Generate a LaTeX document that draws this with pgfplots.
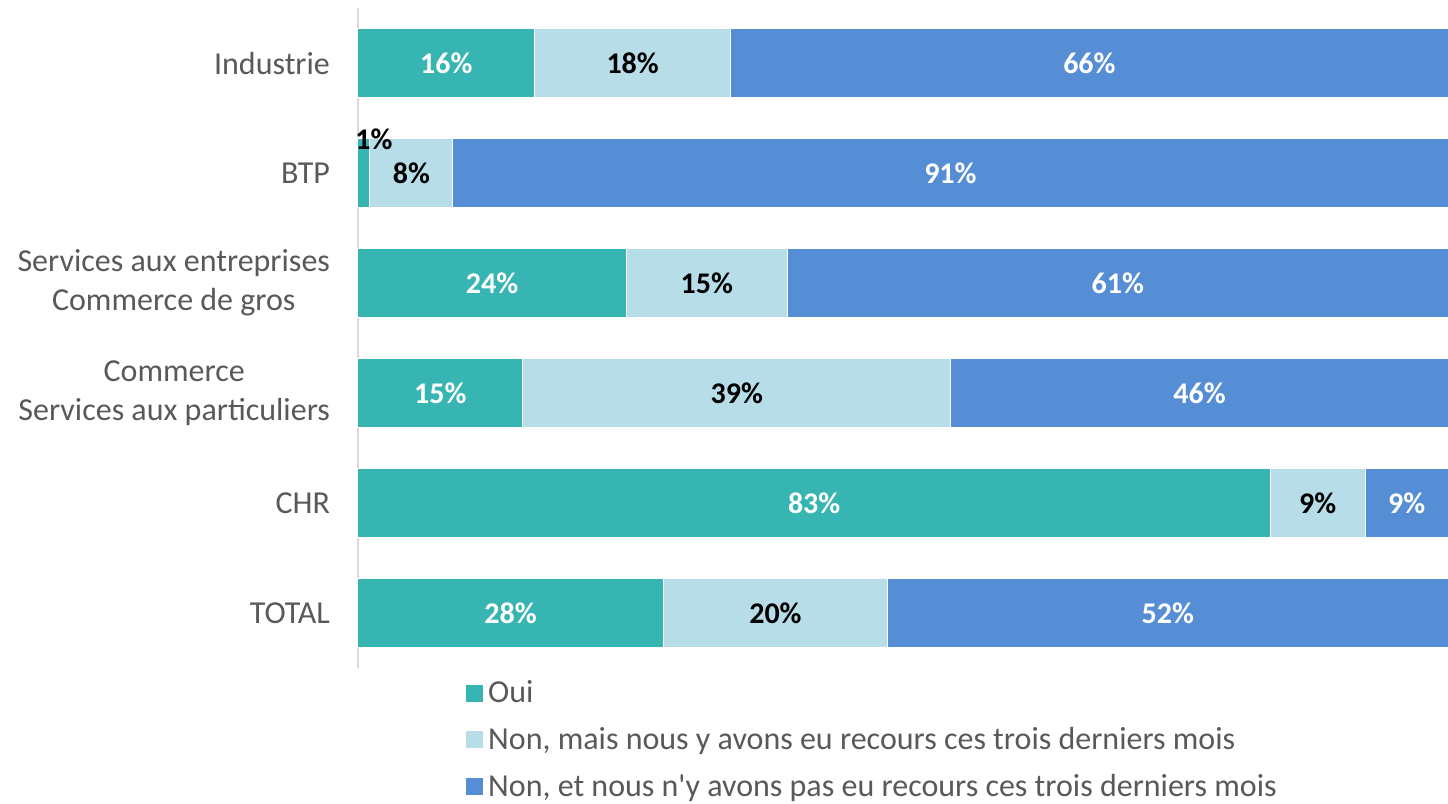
\documentclass[border=0pt]{standalone}
\usepackage{pgfplots}
\pgfplotsset{compat=1.18}
\usepackage{fontspec}
\setmainfont{Carlito}
\definecolor{oui}{HTML}{36B5B3}
\definecolor{nonmais}{HTML}{B7DEE8}
\definecolor{nonet}{HTML}{558ED5}
\definecolor{txt}{HTML}{595959}
\begin{document}
\begin{tikzpicture}
\path[use as bounding box] (0pt,0pt) rectangle (724pt,-402pt);
\begin{axis}[
    at={(179pt,-334pt)}, anchor=south west,
    scale only axis, width=545pt, height=330pt,
    xbar stacked, bar width=34.5pt,
    xmin=0, xmax=100, ymin=-0.5, ymax=5.5, y dir=reverse,
    axis x line=none, axis y line*=left,
    y axis line style={draw=black!15, line width=1pt, -},
    ytick={0,...,5}, major tick length=0pt,
    yticklabels={Industrie, BTP, {Services aux entreprises\\Commerce de gros},
        {Commerce\\Services aux particuliers}, CHR, TOTAL},
    yticklabel style={align=center, text=txt, font=\fontsize{16}{19.5}\selectfont, xshift=-10.5pt},
    clip=false,
    point meta=explicit symbolic,
    nodes near coords,
    every node near coord/.append style={font=\fontsize{15}{17}\selectfont\bfseries},
    legend style={at={(0.098,-0.0124)}, anchor=north west, draw=none, fill=none,
        font=\fontsize{16}{19}\selectfont, text=txt, row sep=6.75pt, inner sep=0pt},
    legend cell align=left,
    legend image code/.code={\fill[#1] (0pt,-4.5pt) rectangle (9pt,4.5pt);},
]
\addplot[fill=oui, draw=white, line width=0.5pt, every node near coord/.append style={text=white}]
    coordinates {(16.2,0)[16\%] (1.1,1)[] (24.6,2)[24\%] (15.1,3)[15\%] (83.7,4)[83\%] (28.0,5)[28\%]};
\addplot[fill=nonmais, draw=white, line width=0.5pt, every node near coord/.append style={text=black}]
    coordinates {(18.0,0)[18\%] (7.6,1)[8\%] (14.8,2)[15\%] (39.3,3)[39\%] (8.7,4)[9\%] (20.6,5)[20\%]};
\addplot[fill=nonet, draw=white, line width=0.5pt, every node near coord/.append style={text=white}]
    coordinates {(65.8,0)[66\%] (91.3,1)[91\%] (60.6,2)[61\%] (45.6,3)[46\%] (7.6,4)[9\%] (51.4,5)[52\%]};
\legend{Oui, {Non, mais nous y avons eu recours ces trois derniers mois},
    {Non, et nous n\textquotesingle y avons pas eu recours ces trois derniers mois}}
\coordinate (onepct) at (axis cs:1.47,0.69);
\end{axis}
\node[font=\fontsize{15}{17}\selectfont\bfseries] at (onepct) {1\%};
\end{tikzpicture}
\end{document}
